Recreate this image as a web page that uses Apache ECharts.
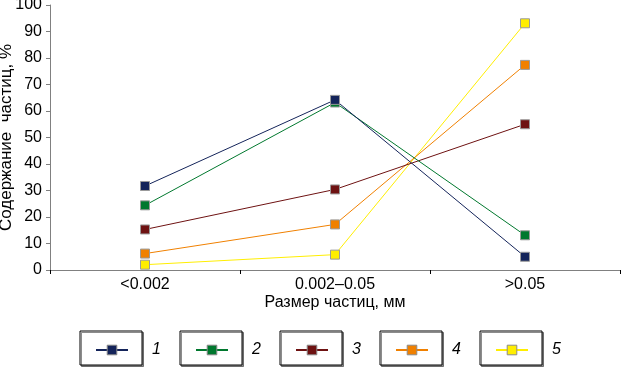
<!DOCTYPE html>
<html><head><meta charset="utf-8">
<script src="https://cdn.jsdelivr.net/npm/echarts@6/dist/echarts.min.js"></script>
<style>html,body{margin:0;padding:0;background:#fff}#c{width:621px;height:367px}</style>
</head><body><div id="c"></div>
<script>
const categories = ['<0.002', '0.002–0.05', '>0.05'];
const seriesNames = ['1', '2', '3', '4', '5'];
const s1 = [31.7, 64.2, 5.0];
const s2 = [24.4, 63.2, 13.1];
const s3 = [15.3, 30.4, 55.0];
const s4 = [6.2, 17.2, 77.4];
const s5 = [2.0, 5.8, 93.1];
const yTicks = [0, 10, 20, 30, 40, 50, 60, 70, 80, 90, 100];
const colors = ['#14245a', '#00782e', '#6e1212', '#f08000', '#ffee00'];
const allData = [s1, s2, s3, s4, s5];

const chart = echarts.init(document.getElementById('c'), null, {renderer: 'canvas'});
const font = '"Liberation Sans", Arial, sans-serif';

const legends = seriesNames.map((n, i) => ({
  data: [n], left: 95 + 100 * i, top: 342, itemWidth: 32, itemHeight: 12,
  padding: 0, selectedMode: false,
  itemStyle: {borderColor: '#8a8a8a', borderWidth: 1},
  textStyle: {fontFamily: font, fontSize: 16, fontStyle: 'italic', color: '#000', padding: [0, 0, 0, 19]}
}));

const graphics = [];
seriesNames.forEach((n, i) => {
  graphics.push({type: 'rect', shape: {x: 80 + 100 * i, y: 331, width: 62, height: 34},
    style: {fill: '#fff', stroke: '#000', lineWidth: 1, shadowColor: 'rgba(0,0,0,0.45)', shadowOffsetX: 1.5, shadowOffsetY: 1.5, shadowBlur: 0}, z: -1});
});

chart.setOption({
  animation: false,
  grid: {left: 50, right: 1, top: 5, bottom: 97, containLabel: false, outerBoundsMode: 'none'},
  legend: legends,
  graphic: graphics,
  xAxis: {
    type: 'category', data: categories, boundaryGap: true,
    name: 'Размер частиц, мм', nameLocation: 'middle', nameGap: 25, nameMoveOverlap: false,
    nameTextStyle: {fontFamily: font, fontSize: 16, color: '#000'},
    axisLine: {lineStyle: {color: '#808080', width: 1}},
    axisTick: {show: true, length: 4, lineStyle: {color: '#000'}},
    axisLabel: {fontFamily: font, fontSize: 16, color: '#000', margin: 7}
  },
  yAxis: {
    type: 'value', min: 0, max: 100, interval: 10,
    name: 'Содержание  частиц, %', nameLocation: 'middle', nameGap: 35, nameMoveOverlap: false,
    nameTextStyle: {fontFamily: font, fontSize: 17, color: '#000'},
    axisLine: {show: true, lineStyle: {color: '#808080', width: 1}},
    axisTick: {show: true, length: 4, lineStyle: {color: '#808080'}},
    splitLine: {show: false},
    axisLabel: {fontFamily: font, fontSize: 16, color: '#000', margin: 8,
      formatter: v => yTicks.includes(v) ? String(v) : ''}
  },
  series: seriesNames.map((n, i) => ({
    name: n, type: 'line', data: allData[i],
    symbol: 'rect', symbolSize: 9,
    lineStyle: {color: colors[i], width: 1},
    itemStyle: {color: colors[i], borderColor: '#9a9a9a', borderWidth: 1},
    z: 10 - i
  }))
});
</script></body></html>
